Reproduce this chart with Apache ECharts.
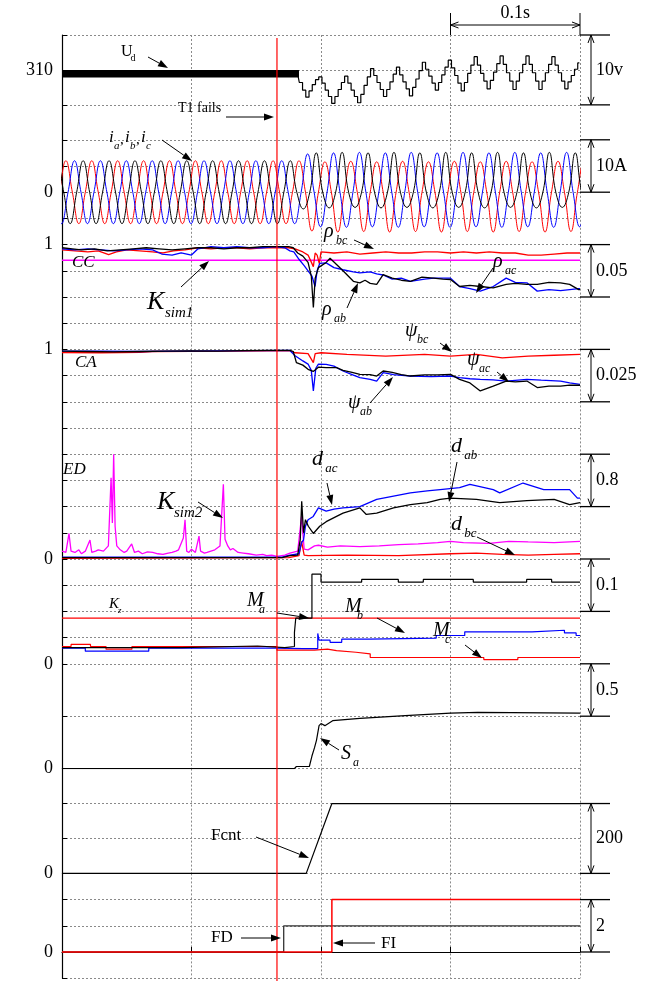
<!DOCTYPE html>
<html>
<head>
<meta charset="utf-8">
<script src="https://cdn.jsdelivr.net/npm/echarts@6/dist/echarts.min.js"></script>
<style>
  html, body { margin: 0; padding: 0; background: #fff; }
  #chart { width: 668px; height: 981px; }
</style>
</head>
<body>
<div id="chart"></div>
<script>
// time axis in ms, 0.1 s per grid division
const T_FAIL = 166;

// panel scales: Ud, currents, CC, CA, ED, M, Sa, Fcnt, FD/FI
const panelMin = [300, -10, 0.9, 0.95, 0, 0, 0, 0, -1];
const panelMax = [315, 10, 1, 1, 1.6, 0.2, 1, 300, 3];
const panelStep = [5, 5, 0.025, 0.0125, 0.4, 0.05, 0.5, 100, 1];
const panelLabel = [310, 0, 1, 1, 0, 0, 0, 0, 0];
// right-hand scale bars: [top value, bottom value, text]
const scaleBars = [
  [315, 305, '10v'], [10, 0, '10A'], [1, 0.95, '0.05'], [1, 0.975, '0.025'],
  [1.6, 0.8, '0.8'], [0.2, 0.1, '0.1'], [1, 0.5, '0.5'], [200, 0, '200'], [2, 0, '2']
];

// Ud: switching band before the fault, staircase ripple after (2.5 ms steps from 182 ms)
const udBand = [[0, 309.45], [183, 309.45]];
const udStart = 182;
const udDt = 2.5;
const udSteps = [309.4, 308.2, 307.1, 306.1, 307.0, 307.9, 308.6, 309.0, 308.1, 307.1, 306.2, 305.2,
  306.2, 307.2, 308.2, 309.1, 308.1, 307.1, 306.2, 305.3, 306.5, 307.8, 309.0, 310.2, 309.2, 308.2,
  307.2, 306.2, 307.2, 308.3, 309.4, 310.4, 309.3, 308.3, 307.3, 306.3, 307.5, 308.7, 309.9, 311.1,
  310.1, 309.1, 308.1, 307.1, 308.2, 309.3, 310.4, 311.4, 310.3, 309.2, 308.1, 307.0, 308.2, 309.5,
  310.7, 311.9, 310.7, 309.5, 308.4, 307.3, 308.5, 309.7, 310.9, 312.0, 310.8, 309.6, 308.4, 307.2,
  308.4, 309.6, 310.8, 312.0, 310.8, 309.6, 308.4, 307.2, 308.4, 309.6, 310.8, 311.9, 310.7, 309.6,
  308.4, 307.3, 308.3, 309.2, 310.1, 311.0];

// phase currents: signed peak of every half cycle (10 ms apart), first peak time
const HALF = 10;
const iRedT0 = -7;
const iRedPeaks = [-6, 6, -6, 6, -6, 6, -6, 6, -6, 6, -6, 6, -6, 6, -6, 6, -6, 6, -6, 6,
  -7.4, 5.8, -7.6, 5.9, -7.5, 5.8, -7.6, 5.9, -7.5, 5.8, -7.6, 5.9, -7.5, 5.8, -7.6, 5.9, -7.5, 5.8, -7.6, 5.9, -7.5, 5.8];
const iBlueT0 = -0.33;
const iBluePeaks = [-6, 6, -6, 6, -6, 6, -6, 6, -6, 6, -6, 6, -6, 6, -6, 6, -6, 6, -6,
  7.3, -6.6, 7.5, -6.7, 7.6, -6.6, 7.5, -6.7, 7.6, -6.6, 7.5, -6.7, 7.6, -6.6, 7.5, -6.7, 7.6, -6.6, 7.5, -6.7, 7.6, -6.6, 7.5];
const iBlackT0 = -3.67;
const iBlackPeaks = [6, -6, 6, -6, 6, -6, 6, -6, 6, -6, 6, -6, 6, -6, 6, -6, 6, -6, 6,
  -3.2, 7.5, -3, 7.6, -2.9, 7.5, -3, 7.6, -2.9, 7.5, -3, 7.6, -2.9, 7.5, -3, 7.6, -2.9, 7.5, -3, 7.6, -2.9, 7.5, -3];

// correlation coefficients CC
const ccAb = [[0,0.997],[8,0.996],[15,0.995],[25,0.996],[35,0.994],[45,0.995],[55,0.996],[65,0.997],[75,0.996],[85,0.995],[95,0.996],[105,0.997],[115,0.997],[125,0.996],[135,0.997],[145,0.997],[155,0.998],[165,0.998],[175,0.998],[178.6,0.997],[182,0.992],[186,0.989],[190,0.983],[192.5,0.97],[194.1,0.94],[195.5,0.968],[198,0.978],[204,0.983],[207,0.987],[212,0.981],[217,0.975],[225,0.965],[230,0.9635],[234,0.966],[238,0.963],[243,0.962],[248,0.9714],[255,0.968],[262,0.966],[269,0.965],[278,0.969],[287,0.968],[294,0.967],[300,0.9667],[307,0.960],[315,0.961],[323,0.96],[333,0.9588],[343,0.962],[350,0.963],[359,0.962],[367,0.962],[376,0.964],[385,0.9635],[392,0.962],[399,0.957],[400,0.957]];
const ccAc = [[0,0.996],[10,0.995],[20,0.996],[30,0.995],[40,0.994],[50,0.995],[60,0.996],[70,0.995],[77,0.991],[85,0.99],[92,0.992],[100,0.99],[105,0.996],[115,0.998],[125,0.997],[135,0.998],[145,0.997],[155,0.997],[165,0.998],[172,0.997],[176,0.994],[179,0.993],[183,0.986],[187,0.98],[190,0.975],[193,0.97],[195.4,0.96],[197,0.975],[199,0.982],[204,0.9826],[210,0.978],[217,0.976],[225,0.974],[230,0.973],[238,0.974],[243,0.972],[248,0.971],[255,0.967],[262,0.968],[269,0.965],[280,0.967],[287,0.968],[300,0.968],[307,0.960],[315,0.958],[323,0.9556],[333,0.96],[343,0.968],[350,0.964],[359,0.9635],[367,0.9556],[376,0.957],[385,0.956],[392,0.957],[399,0.958],[400,0.958]];
const ccBc = [[0,0.995],[10,0.994],[20,0.993],[28,0.994],[36,0.9905],[42,0.993],[50,0.995],[60,0.994],[70,0.993],[78,0.992],[86,0.994],[95,0.995],[105,0.997],[115,0.996],[125,0.997],[135,0.997],[145,0.996],[155,0.997],[165,0.997],[175,0.997],[180,0.996],[186,0.993],[190,0.99],[194.1,0.979],[195.5,0.992],[197,0.99],[198.7,0.982],[200,0.993],[210,0.992],[220,0.993],[230,0.991],[240,0.992],[250,0.993],[260,0.992],[270,0.992],[280,0.993],[290,0.993],[300,0.992],[310,0.993],[320,0.992],[330,0.993],[340,0.992],[350,0.992],[360,0.990],[370,0.990],[380,0.991],[390,0.992],[400,0.992]];
const kSim1 = [[0, 0.985], [400, 0.985]];

// CA
const caAb = [[0,0.9992],[20,0.999],[40,0.9988],[60,0.999],[80,0.9992],[100,0.9993],[120,0.9992],[140,0.9994],[160,0.9995],[176,0.9995],[178.6,0.999],[181,0.9937],[186,0.9925],[190,0.9905],[194,0.9895],[198,0.9915],[204,0.9913],[212,0.9913],[217,0.990],[224,0.989],[230,0.9881],[238,0.988],[243,0.9873],[248,0.9897],[255,0.989],[262,0.988],[269,0.9873],[280,0.9878],[290,0.9878],[300,0.9881],[307,0.9857],[315,0.984],[323,0.9802],[333,0.9825],[343,0.9849],[350,0.9845],[359,0.9849],[367,0.9818],[376,0.9825],[385,0.9825],[392,0.983],[400,0.9829]];
const caAc = [[0,0.9992],[30,0.9992],[60,0.999],[90,0.9992],[120,0.9993],[150,0.9994],[176,0.9995],[180,0.997],[186,0.9945],[190,0.993],[192.5,0.99],[194.1,0.9802],[196,0.991],[198,0.993],[204,0.9929],[210,0.992],[217,0.9897],[224,0.988],[230,0.9865],[238,0.9857],[243,0.9849],[248,0.9889],[256,0.988],[269,0.9873],[285,0.987],[300,0.9873],[307,0.9865],[315,0.986],[323,0.9857],[333,0.9855],[343,0.9849],[359,0.9857],[370,0.9853],[385,0.9849],[392,0.984],[400,0.9833]];
const caBc = [[0,0.9985],[30,0.9984],[60,0.9986],[70,0.999],[100,0.9991],[130,0.9992],[160,0.9993],[176,0.9993],[180,0.9984],[190,0.998],[194.1,0.9937],[195.5,0.998],[200,0.9984],[220,0.9976],[250,0.9968],[280,0.9976],[300,0.9968],[320,0.9976],[340,0.996],[360,0.9968],[380,0.9972],[400,0.9976]];

// ED
const kSim2 = [[0,0.12],[3,0.1],[5.4,0.39],[7,0.12],[10,0.1],[13,0.14],[15,0.08],[18,0.12],[21.6,0.29],[23,0.1],[26,0.12],[28,0.14],[32,0.12],[35.8,0.2],[37.9,1.24],[38.9,0.55],[39.9,1.6],[41,0.5],[42.3,0.2],[45,0.14],[48,0.1],[50,0.12],[53.8,0.23],[56,0.1],[59,0.12],[62,0.08],[66,0.11],[70,0.1],[74,0.08],[78,0.07],[82,0.09],[85,0.1],[88,0.12],[90,0.14],[93.7,0.32],[95,0.6],[96.3,0.12],[98,0.1],[100,0.15],[103,0.1],[105.8,0.35],[107,0.12],[110,0.09],[112,0.1],[115,0.12],[118,0.14],[122,0.2],[124.6,1.14],[125.9,0.3],[128,0.2],[130,0.14],[132,0.16],[136,0.1],[140,0.09],[144,0.08],[150,0.06],[155,0.07],[158,0.05],[162,0.06],[166,0.04],[172,0.06],[176,0.09],[182,0.12],[185,0.65],[187,0.15],[190,0.14],[195,0.2],[198,0.21],[205,0.18],[215,0.2],[230,0.19],[245,0.2],[260,0.22],[275,0.23],[290,0.25],[300,0.27],[310,0.25],[330,0.24],[345,0.27],[360,0.26],[380,0.25],[400,0.27]];
const dAb = [[0,0.02],[170,0.02],[176,0.05],[182,0.06],[184,0.3],[185.1,0.88],[186.5,0.4],[188,0.6],[190.2,0.5],[194.1,0.39],[199,0.5],[204,0.57],[212,0.65],[217,0.70],[230,0.78],[235,0.68],[243,0.70],[256,0.78],[269,0.83],[282,0.86],[292,0.91],[300,0.93],[320,0.91],[338,0.86],[359,0.89],[380,0.91],[392,0.83],[400,0.86]];
const dAc = [[0,0.03],[170,0.03],[176,0.06],[183,0.08],[185,0.25],[186.5,0.29],[188,0.5],[190,0.6],[194,0.65],[198,0.78],[204,0.73],[210,0.76],[217,0.78],[230,0.80],[243,0.91],[256,0.96],[269,1.01],[282,1.04],[292,1.06],[307,1.09],[315,1.14],[333,1.06],[338,1.01],[356,1.16],[372,1.06],[392,1.06],[398,0.93],[400,0.93]];
const dBc = [[0,0.01],[175,0.02],[183,0.05],[185,0.27],[187,0.06],[190,0.05],[220,0.06],[260,0.05],[300,0.08],[320,0.09],[340,0.07],[360,0.06],[380,0.07],[400,0.08]];

// M panel (held values)
const kZ = [[0, 0.087], [400, 0.087]];
const mA = [[0,0.031],[92,0.034],[151,0.031],[172,0.033],[179.5,0.06],[180.5,0.087],[193,0.171],[200,0.156],[231.4,0.161],[259.7,0.156],[279,0.161],[317.6,0.156],[358.8,0.161],[378.1,0.156],[400,0.156]];
const mB = [[0,0.03],[18,0.024],[67,0.03],[166,0.029],[186,0.029],[197.5,0.058],[198.5,0.045],[207,0.041],[216,0.047],[237,0.049],[289,0.054],[311,0.061],[363,0.064],[388,0.059],[397,0.054],[400,0.054]];
const mC = [[0,0.033],[7,0.037],[22,0.033],[34,0.028],[54,0.033],[120,0.033],[166,0.026],[195,0.028],[205,0.025],[212,0.022],[227,0.019],[238,0.012],[325.7,0.008],[352,0.012],[400,0.012]];

// Sa, Fcnt, FD, FI
const sA = [[0,0],[179.4,0],[181,0.02],[191,0.02],[193,0.12],[195,0.2],[196.5,0.27],[198.5,0.41],[200,0.43],[203,0.41],[209,0.457],[230,0.48],[265,0.505],[300,0.53],[321,0.536],[400,0.53]];
const fCnt = [[0,0],[188.6,0],[208.4,200],[400,200]];
const fD = [[0,0],[171.2,1],[400,1]];
const fI = [[0,0],[208.4,2],[400,2]];

const BLACK = '#000000', RED = '#ff0000', BLUE = '#0000ff', MAG = '#ff00ff';
const SERIF = '"Liberation Serif", "DejaVu Serif", serif';
const PANEL_TOP = 35, PANEL_H = 104.8;

function wave(t0, peaks) {
  const pts = [[t0 - HALF / 2, 0]];
  peaks.forEach((p, k) => {
    pts.push([t0 + HALF * k, p]);
    pts.push([t0 + HALF * k + HALF / 2, 0]);
  });
  return pts;
}

function line(idx, data, color, extra) {
  return Object.assign({
    type: 'line', xAxisIndex: idx, yAxisIndex: idx, data: data,
    symbol: 'none', lineStyle: { color: color, width: 1 }, itemStyle: { color: color },
    animation: false, silent: true
  }, extra || {});
}

const chart = echarts.init(document.getElementById('chart'));

const grids = panelMin.map((_, i) => ({ left: 62, right: 88, top: PANEL_TOP + i * PANEL_H, height: PANEL_H }));
const dotted = { show: true, lineStyle: { color: '#8a8a8a', type: [2, 2], width: 1 } };

const xAxes = panelMin.map((_, i) => ({
  gridIndex: i, type: 'value', min: 0, max: 400, interval: 100,
  axisLabel: { show: false },
  axisLine: { show: i === 8, lineStyle: { color: BLACK, width: 1.2 } },
  axisTick: { show: i === 8, inside: true, length: 5, lineStyle: { color: BLACK } },
  splitLine: dotted
}));

const yAxes = panelMin.map((mn, i) => ({
  gridIndex: i, type: 'value', min: mn, max: panelMax[i], interval: panelStep[i],
  axisLine: { show: true, lineStyle: { color: BLACK, width: 1.2 } },
  axisTick: { show: true, inside: true, length: 5, lineStyle: { color: BLACK } },
  axisLabel: {
    show: true, showMinLabel: true, showMaxLabel: true, margin: 9,
    fontFamily: SERIF, fontSize: 18, color: BLACK,
    formatter: v => Math.abs(v - panelLabel[i]) < 1e-6 ? String(panelLabel[i]) : ''
  },
  splitLine: dotted
}));

const udData = udSteps.map((v, k) => [udStart + udDt * k, v]);

const series = [
  line(0, udBand, BLACK, { lineStyle: { color: BLACK, width: 7.5 } }),
  line(0, udData, BLACK, { step: 'middle', lineStyle: { color: BLACK, width: 1.2 } }),

  line(1, wave(iRedT0, iRedPeaks), RED, { smooth: 0.45 }),
  line(1, wave(iBlueT0, iBluePeaks), BLUE, { smooth: 0.45 }),
  line(1, wave(iBlackT0, iBlackPeaks), BLACK, { smooth: 0.45 }),

  line(2, kSim1, MAG, { lineStyle: { color: MAG, width: 1.5 } }),
  line(2, ccBc, RED, { lineStyle: { color: RED, width: 1.3 } }),
  line(2, ccAc, BLUE, { lineStyle: { color: BLUE, width: 1.3 } }),
  line(2, ccAb, BLACK, { lineStyle: { color: BLACK, width: 1.3 } }),

  line(3, caBc, RED, { lineStyle: { color: RED, width: 1.3 } }),
  line(3, caAc, BLUE, { lineStyle: { color: BLUE, width: 1.3 } }),
  line(3, caAb, BLACK, { lineStyle: { color: BLACK, width: 1.3 } }),

  line(4, kSim2, MAG, { lineStyle: { color: MAG, width: 1.3 } }),
  line(4, dBc, RED, { lineStyle: { color: RED, width: 1.3 } }),
  line(4, dAc, BLUE, { lineStyle: { color: BLUE, width: 1.3 } }),
  line(4, dAb, BLACK, { lineStyle: { color: BLACK, width: 1.3 } }),

  line(5, kZ, RED, { lineStyle: { color: RED, width: 1.2 } }),
  line(5, mC, RED, { step: 'end', lineStyle: { color: RED, width: 1.2 } }),
  line(5, mB, BLUE, { step: 'end', lineStyle: { color: BLUE, width: 1.2 } }),
  line(5, mA, BLACK, { step: 'end', lineStyle: { color: BLACK, width: 1.2 } }),

  line(6, sA, BLACK, { lineStyle: { color: BLACK, width: 1.2 } }),
  line(7, fCnt, BLACK, { lineStyle: { color: BLACK, width: 1.2 } }),
  line(8, fD, BLACK, { step: 'end', lineStyle: { color: '#333', width: 1.3 } }),
  line(8, fI, RED, { step: 'end', lineStyle: { color: RED, width: 1.5 } })
];

chart.setOption({
  animation: false,
  backgroundColor: '#fff',
  grid: grids, xAxis: xAxes, yAxis: yAxes, series: series
});

// ---- annotations ----
function txt(x, y, s, size, italic, align) {
  return {
    type: 'text', x: x, y: y, silent: true, z: 50,
    style: {
      text: s, fill: BLACK, align: align || 'left', verticalAlign: 'middle',
      font: (italic ? 'italic ' : '') + size + 'px ' + SERIF
    }
  };
}
function seg(x1, y1, x2, y2, color, w) {
  return { type: 'line', silent: true, z: 50, shape: { x1, y1, x2, y2 }, style: { stroke: color || BLACK, lineWidth: w || 1 } };
}
function arrow(x1, y1, x2, y2) {
  const a = Math.atan2(y2 - y1, x2 - x1), L = 10, W = 3.5;
  const bx = x2 - L * Math.cos(a), by = y2 - L * Math.sin(a);
  const nx = -Math.sin(a) * W, ny = Math.cos(a) * W;
  return [seg(x1, y1, bx, by), {
    type: 'polygon', silent: true, z: 50,
    shape: { points: [[x2, y2], [bx + nx, by + ny], [bx - nx, by - ny]] }, style: { fill: BLACK }
  }];
}
function openHead(x, y, dir) {
  return { type: 'polyline', silent: true, z: 50,
    shape: { points: [[x - 3, y + dir * 8], [x, y], [x + 3, y + dir * 8]] },
    style: { stroke: BLACK, lineWidth: 1, fill: null } };
}
function sub(x, y, main, s, size, italic) {
  return [txt(x, y, main, size, italic), txt(x + size * 0.6, y + size * 0.42, s, Math.round(size * 0.6), italic)];
}

// label text placements (pixels)
const notes = [].concat(
  sub(121, 52, 'U', 'd', 16, false),
  [txt(178, 108, 'T1 fails', 14, false)],
  [txt(109, 138, 'i', 17, true), txt(114, 146, 'a', 11, true), txt(120, 140, ',', 15, false),
   txt(125, 138, 'i', 17, true), txt(130, 146, 'b', 11, true), txt(136, 140, ',', 15, false),
   txt(141, 138, 'i', 17, true), txt(146, 146, 'c', 11, true)],
  sub(324, 232, '\u03c1', 'bc', 20, true),
  [txt(72, 263, 'CC', 17, true)],
  [txt(147, 302, 'K', 26, true), txt(165, 313, 'sim1', 15, true)],
  sub(322, 310, '\u03c1', 'ab', 20, true),
  sub(493, 262, '\u03c1', 'ac', 20, true),
  sub(405, 331, '\u03c8', 'bc', 20, true),
  sub(467, 360, '\u03c8', 'ac', 20, true),
  sub(348, 403, '\u03c8', 'ab', 20, true),
  [txt(75, 363, 'CA', 17, true)],
  [txt(63, 470, 'ED', 17, true)],
  [txt(157, 502, 'K', 26, true), txt(174, 513, 'sim2', 15, true)],
  sub(312, 459, 'd', 'ac', 22, true),
  sub(451, 446, 'd', 'ab', 22, true),
  sub(451, 524, 'd', 'bc', 22, true),
  sub(109, 604, 'K', 'z', 15, true),
  sub(247, 601, 'M', 'a', 20, true),
  sub(345, 607, 'M', 'b', 20, true),
  sub(433, 631, 'M', 'c', 20, true),
  sub(341, 754, 'S', 'a', 20, true),
  [txt(211, 836, 'Fcnt', 17, false), txt(211, 938, 'FD', 17, false), txt(381, 944, 'FI', 17, false)]
);
const arrows = [
  [148, 57, 168, 68], [226, 117, 274, 117], [162, 140, 192, 161], [354, 240, 374, 249],
  [181, 287, 209, 261], [347, 308, 358, 283], [493, 268, 476, 293], [440, 343, 452, 352],
  [497, 372, 509, 382], [370, 403, 393, 377], [198, 502, 223, 518], [327, 483, 332, 505],
  [457, 462, 449, 502], [477, 537, 515, 555], [277, 613, 309, 618], [377, 618, 405, 633],
  [465, 645, 482, 658], [339, 750, 320, 738], [256, 837, 309, 858], [241, 938, 281, 938],
  [375, 943, 333, 943]
];

function drawGraphics() {
  const g = [];
  // fault instant
  const xf = chart.convertToPixel({ gridIndex: 0 }, [T_FAIL, 315])[0];
  g.push(seg(xf, 38, xf, 981, RED, 1.2));

  // scale bars on the right
  scaleBars.forEach((b, i) => {
    const p1 = chart.convertToPixel({ gridIndex: i }, [400, b[0]]);
    const p2 = chart.convertToPixel({ gridIndex: i }, [400, b[1]]);
    const xr = p1[0], xa = xr + 11;
    g.push(seg(xr, p1[1], xr + 30, p1[1], BLACK, 1.3));
    g.push(seg(xr, p2[1], xr + 30, p2[1], BLACK, 1.3));
    g.push(seg(xa, p1[1], xa, p2[1]));
    g.push(openHead(xa, p1[1], 1), openHead(xa, p2[1], -1));
    g.push(txt(xr + 16, (p1[1] + p2[1]) / 2, b[2], 18, false));
  });

  // 0.1 s bar above the top panel
  const a0 = chart.convertToPixel({ gridIndex: 0 }, [300, 315]);
  const a1 = chart.convertToPixel({ gridIndex: 0 }, [400, 315]);
  g.push(seg(a0[0], 13, a0[0], a0[1]), seg(a1[0], 13, a1[0], a1[1]));
  g.push(seg(a0[0], 25, a1[0], 25));
  g.push({ type: 'polyline', silent: true, z: 50, shape: { points: [[a0[0] + 8, 22], [a0[0], 25], [a0[0] + 8, 28]] }, style: { stroke: BLACK, fill: null } });
  g.push({ type: 'polyline', silent: true, z: 50, shape: { points: [[a1[0] - 8, 22], [a1[0], 25], [a1[0] - 8, 28]] }, style: { stroke: BLACK, fill: null } });
  g.push(txt((a0[0] + a1[0]) / 2, 13, '0.1s', 18, false, 'center'));

  notes.forEach(n => g.push(n));
  arrows.forEach(a => arrow(a[0], a[1], a[2], a[3]).forEach(e => g.push(e)));
  chart.setOption({ graphic: g });
}
drawGraphics();
</script>
</body>
</html>
